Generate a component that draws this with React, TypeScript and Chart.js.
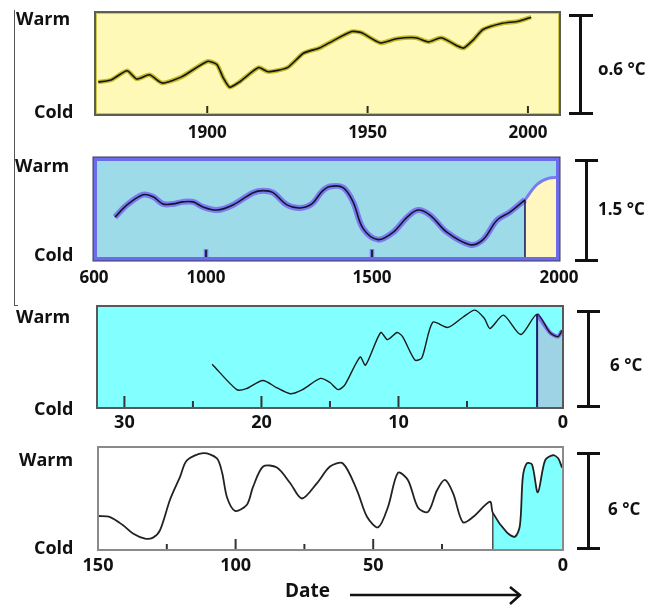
import React, { useEffect, useRef } from 'react';
import { Chart, registerables, LinearScale } from 'chart.js';

Chart.register(...registerables);

// ---------------- data ----------------
// Panel 1: instrumental record (years AD), relative warmth 0 (cold) .. 100 (warm)
const p1Years = [1866, 1870, 1875, 1878, 1882, 1886, 1892, 1900, 1903, 1905, 1907, 1910, 1916, 1919, 1925, 1930, 1935, 1938, 1945, 1948, 1954, 1959, 1965, 1969, 1973, 1978, 1980, 1983, 1986, 1992, 1997, 2001];
const p1Temp = [32, 34, 43, 35, 39, 31, 37, 52, 49, 36, 27, 32, 46, 42, 46, 60, 65, 70, 81, 80, 70, 74, 75, 71, 75, 67, 65, 73, 83, 89, 91, 95];
const p1TickLabels = [1900, 1950, 2000];
const p1TickMarks = [1900, 1950, 2000];

// Panel 2: last ~1400 years (years AD)
const p2Years = [675, 718, 775, 811, 846, 882, 918, 954, 989, 1033, 1081, 1142, 1172, 1202, 1244, 1283, 1319, 1349, 1373, 1413, 1443, 1473, 1516, 1556, 1594, 1623, 1655, 1701, 1762, 1797, 1834, 1869, 1909];
const p2Temp = [42, 54, 64, 62, 55, 55, 57, 57, 52, 49, 54, 66, 68, 66, 54, 51, 55, 67, 72, 71, 57, 31, 20, 27, 42, 49, 44, 27, 15, 20, 39, 47, 59];
const p2ModernYears = [1909, 1941, 1971, 2000];
const p2ModernTemp = [59, 74, 80, 81];
const p2TickLabels = [600, 1000, 1500, 2000];
const p2TickMarks = [1000, 1500];

// Panel 3: last ~32 thousand years (kyr before present)
const p3Kyr = [23.6, 21.8, 21.1, 19.9, 18.9, 17.9, 17.0, 15.7, 15.0, 14.4, 13.9, 12.8, 12.4, 11.3, 10.8, 10.1, 9.7, 8.8, 8.3, 7.5, 6.4, 5.3, 4.6, 4.1, 3.8, 3.1, 2.2, 1.35];
const p3Temp = [43, 18, 19, 27, 20, 14, 18, 29, 25, 18, 23, 50, 42, 74, 67, 74, 70, 47, 49, 84, 79, 89, 96, 88, 78, 91, 72, 92];
const p3ModernKyr = [1.35, 0.68, 0.26, 0.05];
const p3ModernTemp = [92, 74, 70, 76];
const p3TickLabels = [30, 20, 10, 0];
const p3MajorMarks = [30, 20, 10];
const p3MinorMarks = [25, 15, 5];

// Panel 4: last ~150 thousand years (kyr before present)
const p4Kyr = [150, 145.6, 140.9, 137.3, 132.9, 130.0, 127.5, 123.8, 120.2, 117.7, 111.8, 106.8, 104.9, 103.1, 100.2, 95.9, 93.7, 90.0, 85.0, 80.2, 75.9, 70.4, 65.7, 61.0, 55.9, 52.2, 48.2, 44.6, 41.0, 37.4, 33.7, 30.1, 26.8, 24.4, 22.7, 20.7, 18.6, 15.1, 14.5];
const p4Temp = [33, 32, 24, 16, 11, 12, 19, 49, 71, 87, 94, 89, 75, 51, 38, 44, 61, 81, 80, 65, 50, 65, 81, 84, 58, 32, 22, 42, 75, 68, 41, 37, 58, 68, 55, 27, 32, 47, 36];
const p4ModernKyr = [14.5, 11.6, 9.9, 8.9, 8.3, 7.5, 6.4, 5.2, 3.7, 2.1, 1.0, 0.2];
const p4ModernTemp = [36, 17, 13, 24, 71, 84, 83, 56, 87, 92, 89, 80];
const p4TickLabels = [150, 100, 50, 0];
const p4MajorMarks = [100, 50];
const p4MinorMarks = [125, 75, 25];

const warmLabel = 'Warm';
const coldLabel = 'Cold';
const rangeLabels = ['o.6 °C', '1.5 °C', '6 °C', '6 °C'];
const dateLabel = 'Date';

// ---------------- axis warping (the schematic axes are not evenly spaced) ----------------
type Knot = [number, number];
const p2Knots: Knot[] = [[600, 0], [1000, 0.2409], [1500, 0.5978], [2000, 1]];
const p3Knots: Knot[] = [[32, 0], [5, 0.794], [0, 1]];
const p4Knots: Knot[] = [[150, 0], [25, 0.7398], [0, 1]];

function mapKnots(knots: Knot[], v: number, from: 0 | 1, to: 0 | 1) {
  const n = knots.length;
  let seg = -1;
  for (let i = 0; i < n - 1; i++) {
    const p = knots[i][from], q = knots[i + 1][from];
    if ((v - p) * (v - q) <= 0) { seg = i; break; }
  }
  if (seg < 0) seg = Math.abs(v - knots[0][from]) < Math.abs(v - knots[n - 1][from]) ? 0 : n - 2;
  const a = knots[seg], b = knots[seg + 1];
  const t = (v - a[from]) / (b[from] - a[from]);
  return a[to] + t * (b[to] - a[to]);
}

function makeScale(scaleId: string, knots: Knot[]) {
  class WarpScale extends (LinearScale as any) {
    static id = scaleId;
    static defaults = (LinearScale as any).defaults;
    getPixelForValue(value: number) {
      return (this as any).getPixelForDecimal(mapKnots(knots, value, 0, 1));
    }
    getValueForPixel(pixel: number) {
      return mapKnots(knots, (this as any).getDecimalForPixel(pixel), 1, 0);
    }
  }
  return WarpScale;
}

Chart.register(makeScale('warp2', p2Knots) as any, makeScale('warp3', p3Knots) as any, makeScale('warp4', p4Knots) as any);

const pts = (xs: number[], ys: number[]) => xs.map((x, i) => ({ x, y: ys[i] }));

const FONT = "'Open Sans', sans-serif";

type Border = { color: string; width: number; inset: number };
type Spec = {
  top: number; height: number; left: number; right: number; padTop: number; axisH: number;
  tickPad: number; fontSize: number; xType: string; xMin: number; xMax: number;
  labels: number[]; major: number[]; minor: number[]; majorLen: number; minorLen: number;
  markColor: string; markHalo?: string; bg: string; borders: Border[]; datasets: any[];
};

function framePlugin(p: Spec) {
  return {
    id: 'frame',
    beforeDraw(chart: any) {
      const { ctx, chartArea: a } = chart;
      ctx.save();
      ctx.fillStyle = p.bg;
      ctx.fillRect(a.left, a.top, a.right - a.left, a.bottom - a.top);
      ctx.restore();
    },
    afterDatasetsDraw(chart: any) {
      const { ctx, chartArea: a } = chart;
      const xs = chart.scales.x;
      ctx.save();
      const marks = (vals: number[], len: number) => vals.forEach((v) => {
        const x = xs.getPixelForValue(v);
        if (p.markHalo) {
          ctx.strokeStyle = p.markHalo; ctx.lineWidth = 4.5;
          ctx.beginPath(); ctx.moveTo(x, a.bottom); ctx.lineTo(x, a.bottom - len - 1); ctx.stroke();
        }
        ctx.strokeStyle = p.markColor; ctx.lineWidth = 2;
        ctx.beginPath(); ctx.moveTo(x, a.bottom); ctx.lineTo(x, a.bottom - len); ctx.stroke();
      });
      marks(p.major, p.majorLen);
      marks(p.minor, p.minorLen);
      const w = a.right - a.left, h = a.bottom - a.top;
      p.borders.forEach((b) => {
        ctx.strokeStyle = b.color; ctx.lineWidth = b.width;
        ctx.strokeRect(a.left + b.inset, a.top + b.inset, w - 2 * b.inset, h - 2 * b.inset);
      });
      ctx.restore();
    },
  };
}

function buildConfig(p: Spec): any {
  return {
    type: 'line',
    data: { datasets: p.datasets },
    options: {
      responsive: false,
      animation: false,
      events: [],
      parsing: true,
      layout: { padding: { left: p.left, right: 660 - p.right, top: p.padTop, bottom: 0 } },
      plugins: { legend: { display: false }, tooltip: { enabled: false } },
      elements: { point: { radius: 0 } },
      scales: {
        x: {
          type: p.xType, min: p.xMin, max: p.xMax,
          grid: { display: false, drawTicks: false },
          border: { display: false },
          afterBuildTicks: (s: any) => { s.ticks = p.labels.map((v) => ({ value: v })); },
          afterFit: (s: any) => { s.height = p.axisH; },
          ticks: {
            autoSkip: false, maxRotation: 0, minRotation: 0, padding: p.tickPad, color: '#111',
            font: { family: FONT, weight: 'bold', size: p.fontSize },
            callback: (v: any) => String(v),
          },
        },
        y: { display: false, min: 0, max: 100 },
      },
    },
    plugins: [framePlugin(p)],
  };
}

const line = (data: any[], color: string, width: number, tension: number, extra: any = {}) => ({
  data, borderColor: color, borderWidth: width, tension, pointRadius: 0, fill: false, ...extra,
});

function specs(): Spec[] {
  const p1Line = pts(p1Years, p1Temp);
  const p2Line = pts(p2Years, p2Temp);
  const p2Mod = pts(p2ModernYears, p2ModernTemp);
  const p3Line = pts([...p3Kyr, ...p3ModernKyr.slice(1)], [...p3Temp, ...p3ModernTemp.slice(1)]);
  const p3Mod = pts(p3ModernKyr, p3ModernTemp);
  const p4Line = pts([...p4Kyr, ...p4ModernKyr.slice(1)], [...p4Temp, ...p4ModernTemp.slice(1)]);
  const p4Mod = pts(p4ModernKyr, p4ModernTemp);
  const vert = (xs: number[], ys: number[]) => [{ x: xs[0], y: 0 }, { x: xs[0], y: ys[0] }];
  const p3Last = p3ModernKyr.length - 1;

  return [
    {
      top: 0, height: 145, left: 95, right: 560, padTop: 12, axisH: 30, tickPad: 8, fontSize: 17,
      xType: 'linear', xMin: 1865, xMax: 2010, labels: p1TickLabels, major: p1TickMarks, minor: [],
      majorLen: 9, minorLen: 0, markColor: '#2e2e1e', bg: '#fff9b7',
      borders: [{ color: '#d0c74c', width: 1, inset: 1.5 }, { color: '#5e5e4c', width: 2, inset: 0 }],
      datasets: [
        line(p1Line, '#141414', 1.6, 0.2),
        line(p1Line, '#c2b92a', 4.5, 0.2),
      ],
    },
    {
      top: 145, height: 147, left: 94, right: 559, padTop: 13, axisH: 32, tickPad: 8, fontSize: 17,
      xType: 'warp2', xMin: 600, xMax: 2000, labels: p2TickLabels, major: p2TickMarks, minor: [],
      majorLen: 10, minorLen: 0, markColor: '#222244', markHalo: '#7a7af0', bg: '#9ddbe9',
      borders: [{ color: '#6b6bec', width: 4, inset: 1 }, { color: '#3a3a56', width: 1, inset: -1 }],
      datasets: [
        line(p2Line, '#151530', 1.6, 0.35),
        line(vert(p2ModernYears, p2ModernTemp), '#1e1e60', 1.6, 0),
        line(p2Line, '#7b7bf0', 6, 0.35),
        line(p2Mod, '#7b7bf0', 3, 0.35, { fill: 'start', backgroundColor: '#fff7bf' }),
      ],
    },
    {
      top: 292, height: 144, left: 97, right: 563, padTop: 14, axisH: 28, tickPad: 4, fontSize: 18,
      xType: 'warp3', xMin: 0, xMax: 32, labels: p3TickLabels, major: p3MajorMarks, minor: p3MinorMarks,
      majorLen: 12, minorLen: 7, markColor: '#333333', bg: '#82ffff',
      borders: [{ color: '#585858', width: 2, inset: 0 }],
      datasets: [
        line(p3Line, '#1a1a1a', 1.4, 0.25),
        line(vert(p3ModernKyr, p3ModernTemp), '#1e1e70', 2, 0),
        line(p3Mod, '#7a70f0', 4, 0.25, { fill: 'start', backgroundColor: '#9dd3e4' }),
        line([
          { x: p3ModernKyr[p3Last], y: p3ModernTemp[p3Last] },
          { x: p3ModernKyr[p3Last], y: 0 },
          { x: p3ModernKyr[0], y: 0 },
        ], '#7a70f0', 4, 0),
      ],
    },
    {
      top: 436, height: 144, left: 98, right: 563, padTop: 11, axisH: 30, tickPad: 5, fontSize: 18,
      xType: 'warp4', xMin: 0, xMax: 150, labels: p4TickLabels, major: p4MajorMarks, minor: p4MinorMarks,
      majorLen: 11, minorLen: 6, markColor: '#333333', bg: '#ffffff',
      borders: [{ color: '#8a8a8a', width: 2, inset: 0 }],
      datasets: [
        line(p4Line, '#222222', 1.8, 0.3),
        line(vert(p4ModernKyr, p4ModernTemp), '#222222', 1.2, 0),
        line(p4Mod, 'rgba(0,0,0,0)', 0, 0.3, { fill: 'start', backgroundColor: '#80ffff' }),
      ],
    },
  ];
}

function Panel({ spec }: { spec: Spec }) {
  const ref = useRef<HTMLCanvasElement>(null);
  useEffect(() => {
    const chart = new Chart(ref.current as HTMLCanvasElement, buildConfig(spec));
    return () => chart.destroy();
  }, []);
  return (
    <canvas
      ref={ref}
      width={660}
      height={spec.height}
      style={{ position: 'absolute', left: 0, top: spec.top, width: 660, height: spec.height }}
    />
  );
}

function Txt({ text, left, baseline, size }: { text: string; left: number; baseline: number; size: number }) {
  return (
    <div
      style={{
        position: 'absolute', left, top: baseline - size * 0.888, fontFamily: FONT, fontWeight: 700,
        fontSize: size, lineHeight: `${size}px`, color: '#111', whiteSpace: 'nowrap',
      }}
    >
      {text}
    </div>
  );
}

function IBeam({ x, y1, y2, capL, capR }: { x: number; y1: number; y2: number; capL: number; capR: number }) {
  const t = 3;
  return (
    <>
      <div style={{ position: 'absolute', left: x - t / 2, top: y1, width: t, height: y2 - y1, background: '#111' }} />
      <div style={{ position: 'absolute', left: capL, top: y1 - t / 2, width: capR - capL, height: t, background: '#111' }} />
      <div style={{ position: 'absolute', left: capL, top: y2 - t / 2, width: capR - capL, height: t, background: '#111' }} />
    </>
  );
}

export default function App() {
  const all = specs();
  const warmBase = [25, 172, 323, 466];
  const coldBase = [118, 261, 415, 554];
  const warmLeft = [16, 15, 16, 19];
  const beams = [
    { x: 580, y1: 15, y2: 113, capL: 569, capR: 593 },
    { x: 586, y1: 160, y2: 260, capL: 575, capR: 598 },
    { x: 588, y1: 311, y2: 406, capL: 577, capR: 600 },
    { x: 588, y1: 453, y2: 548, capL: 577, capR: 600 },
  ];
  const rangePos = [
    { left: 598, baseline: 75 },
    { left: 598, baseline: 215 },
    { left: 610, baseline: 371 },
    { left: 608, baseline: 515 },
  ];
  return (
    <div style={{ position: 'absolute', left: 0, top: 0, width: 660, height: 608, background: '#fff', overflow: 'hidden' }}>
      {all.map((s, i) => <Panel key={i} spec={s} />)}
      <div style={{ position: 'absolute', left: 14, top: 10, width: 1, height: 296, background: '#555' }} />
      <div style={{ position: 'absolute', left: 14, top: 305, width: 4, height: 1, background: '#555' }} />
      {all.map((_, i) => (
        <React.Fragment key={'t' + i}>
          <Txt text={warmLabel} left={warmLeft[i]} baseline={warmBase[i]} size={18} />
          <Txt text={coldLabel} left={34} baseline={coldBase[i]} size={18} />
          <IBeam {...beams[i]} />
          <Txt text={rangeLabels[i]} left={rangePos[i].left} baseline={rangePos[i].baseline} size={17} />
        </React.Fragment>
      ))}
      <Txt text={dateLabel} left={285} baseline={598} size={19} />
      <svg width={660} height={608} style={{ position: 'absolute', left: 0, top: 0, pointerEvents: 'none' }}>
        <line x1={350} y1={595} x2={519} y2={595} stroke="#111" strokeWidth={2.5} />
        <polyline points="510,587 520,595 510,604" fill="none" stroke="#111" strokeWidth={2.5} />
      </svg>
    </div>
  );
}
